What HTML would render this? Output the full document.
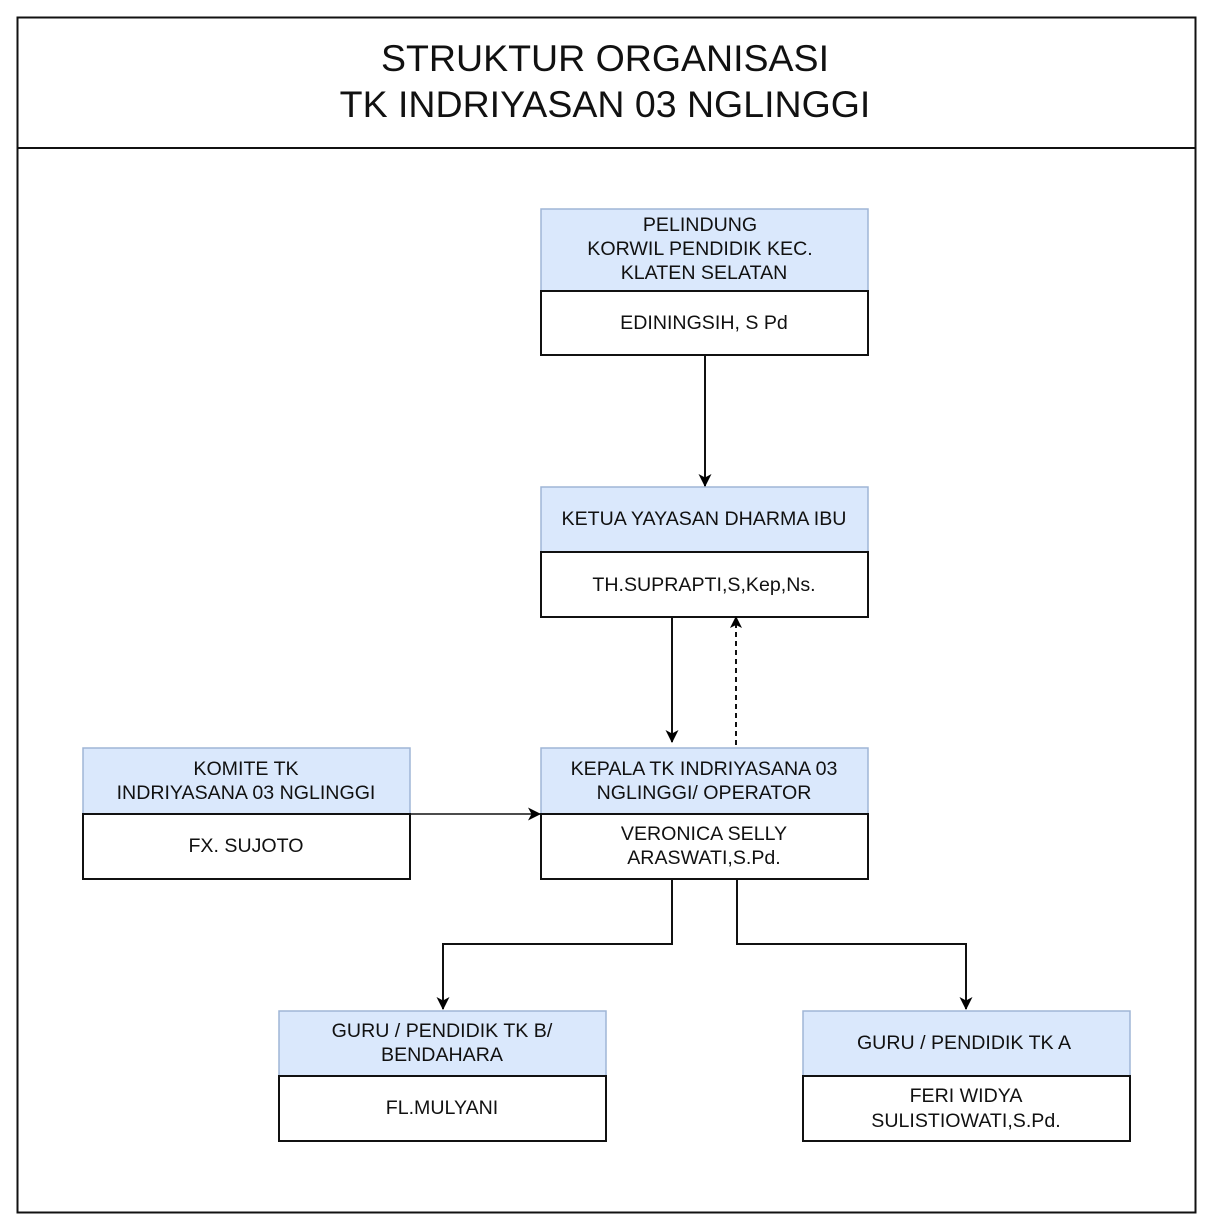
<!DOCTYPE html>
<html><head><meta charset="utf-8"><style>
html,body{margin:0;padding:0;background:#fff;}
svg{display:block;}
text{font-family:"Liberation Sans",Arial,sans-serif;fill:#111;text-anchor:middle;}
</style></head><body>
<svg width="1213" height="1229" viewBox="0 0 1213 1229" xmlns="http://www.w3.org/2000/svg">
<defs>
<marker id="a" markerWidth="12" markerHeight="12" refX="11" refY="6" orient="auto" markerUnits="userSpaceOnUse"><path d="M0,0 L12,6 L0,12 L3,6 Z" fill="#000"/></marker>
<marker id="b" markerWidth="13" markerHeight="13" refX="12" refY="6.5" orient="auto" markerUnits="userSpaceOnUse"><path d="M0,0 L13,6.5 L0,13 L3.5,6.5 Z" fill="#000"/></marker>
</defs>
<rect x="17.5" y="17.5" width="1178" height="1195" fill="#fff" stroke="#111" stroke-width="2"/>
<line x1="17" y1="148" x2="1196" y2="148" stroke="#111" stroke-width="2"/>
<text x="605" y="71" font-size="37.5">STRUKTUR ORGANISASI</text>
<text x="605" y="117" font-size="37.5">TK INDRIYASAN 03 NGLINGGI</text>

<g font-size="19.6">
<rect x="541" y="209" width="327" height="82" fill="#dae8fc" stroke="#9fb5d6" stroke-width="1.5"/>
<rect x="541" y="291" width="327" height="64" fill="#fff" stroke="#111" stroke-width="2"/>
<text x="700" y="231">PELINDUNG</text>
<text x="700" y="255">KORWIL PENDIDIK KEC.</text>
<text x="704" y="279">KLATEN SELATAN</text>
<text x="704" y="329">EDININGSIH, S Pd</text>

<rect x="541" y="487" width="327" height="65" fill="#dae8fc" stroke="#9fb5d6" stroke-width="1.5"/>
<rect x="541" y="552" width="327" height="65" fill="#fff" stroke="#111" stroke-width="2"/>
<text x="704" y="525">KETUA YAYASAN DHARMA IBU</text>
<text x="704" y="591">TH.SUPRAPTI,S,Kep,Ns.</text>

<rect x="541" y="748" width="327" height="66" fill="#dae8fc" stroke="#9fb5d6" stroke-width="1.5"/>
<rect x="541" y="814" width="327" height="65" fill="#fff" stroke="#111" stroke-width="2"/>
<text x="704" y="775">KEPALA TK INDRIYASANA 03</text>
<text x="704" y="799">NGLINGGI/ OPERATOR</text>
<text x="704" y="840">VERONICA SELLY</text>
<text x="704" y="864">ARASWATI,S.Pd.</text>

<rect x="83" y="748" width="327" height="66" fill="#dae8fc" stroke="#9fb5d6" stroke-width="1.5"/>
<rect x="83" y="814" width="327" height="65" fill="#fff" stroke="#111" stroke-width="2"/>
<text x="246" y="775">KOMITE TK</text>
<text x="246" y="799">INDRIYASANA 03 NGLINGGI</text>
<text x="246" y="852">FX. SUJOTO</text>

<rect x="279" y="1011" width="327" height="65" fill="#dae8fc" stroke="#9fb5d6" stroke-width="1.5"/>
<rect x="279" y="1076" width="327" height="65" fill="#fff" stroke="#111" stroke-width="2"/>
<text x="442" y="1037">GURU / PENDIDIK TK B/</text>
<text x="442" y="1061">BENDAHARA</text>
<text x="442" y="1114">FL.MULYANI</text>

<rect x="803" y="1011" width="327" height="65" fill="#dae8fc" stroke="#9fb5d6" stroke-width="1.5"/>
<rect x="803" y="1076" width="327" height="65" fill="#fff" stroke="#111" stroke-width="2"/>
<text x="964" y="1049">GURU / PENDIDIK TK A</text>
<text x="966" y="1102">FERI WIDYA</text>
<text x="966" y="1127">SULISTIOWATI,S.Pd.</text>
</g>

<g stroke="#111" stroke-width="2" fill="none">
<line x1="705" y1="355" x2="705" y2="486" marker-end="url(#b)"/>
<line x1="672" y1="617" x2="672" y2="742" marker-end="url(#b)"/>
<line x1="736" y1="745" x2="736" y2="617" stroke-dasharray="5,4" marker-end="url(#a)"/>
<line x1="410" y1="814" x2="540" y2="814" stroke-width="1.5" marker-end="url(#b)"/>
<polyline points="672,879 672,944 443,944 443,1009" marker-end="url(#b)"/>
<polyline points="737,879 737,944 966,944 966,1009" marker-end="url(#b)"/>
</g>
</svg>
</body></html>
